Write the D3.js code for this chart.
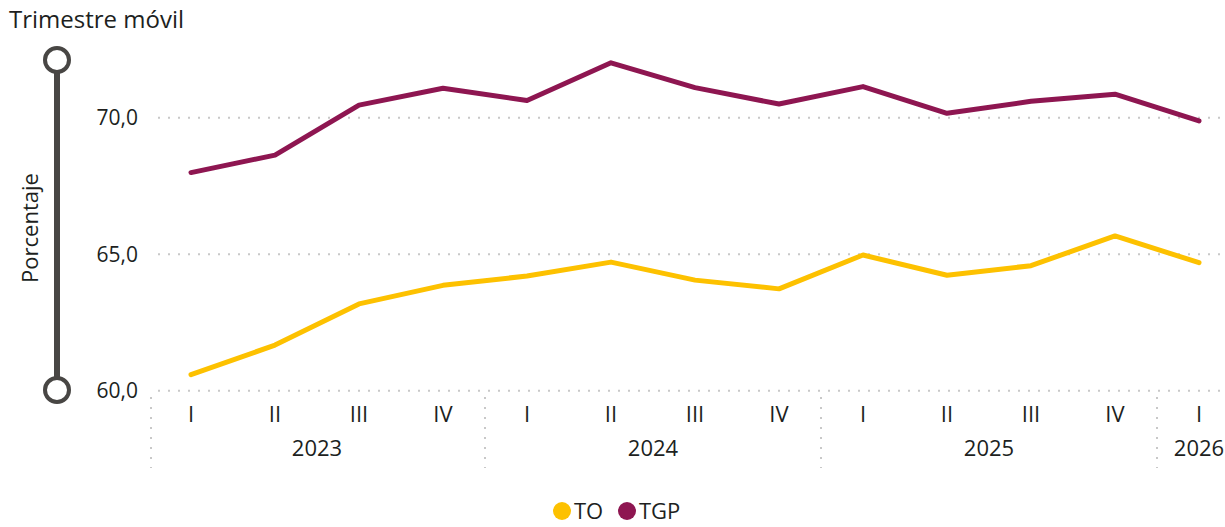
<!DOCTYPE html>
<html lang="es">
<head>
    <meta charset="UTF-8">
    <title>Trimestre móvil</title>
    <script src="https://d3js.org/d3.v7.min.js"></script>
    <style>
        body {
            margin: 0;
            background: #fff;
            font-family: "Segoe UI", "Open Sans", sans-serif;
        }
        #canvas {
            display: block;
        }
        .grid line {
            stroke: #c8c8c8;
            stroke-width: 2;
            stroke-dasharray: 2 8;
        }
        text {
            fill: #201f1e;
        }
    </style>
</head>
<body>
<svg id="canvas" width="1225" height="527"></svg>
<script>
    // data
    const quarters = ["I", "II", "III", "IV", "I", "II", "III", "IV", "I", "II", "III", "IV", "I"];
    const years = ["2023", "2023", "2023", "2023", "2024", "2024", "2024", "2024", "2025", "2025", "2025", "2025", "2026"];
    const tgp = [67.99, 68.63, 70.46, 71.08, 70.63, 72.01, 71.10, 70.50, 71.14, 70.16, 70.60, 70.86, 69.88];
    const to = [60.59, 61.67, 63.18, 63.86, 64.20, 64.71, 64.05, 63.73, 64.97, 64.23, 64.58, 65.67, 64.69];
    const yTicks = [60, 65, 70];
    const series = [
        {name: "TO", values: to, color: "#fdc100"},
        {name: "TGP", values: tgp, color: "#8e1651"}
    ];

    const svg = d3.select("#canvas");
    const idx = d3.range(quarters.length);

    let x = d3.scaleBand().domain(idx).range([149, 1241]);
    let y = d3.scaleLinear().domain([60, 70]).range([390.7, 117.7]);
    let cx = i => x(i) + x.bandwidth() / 2;

    // title
    svg.append("text")
        .attr("x", 9).attr("y", 28)
        .style("font-size", "24px")
        .text("Trimestre móvil");

    // axis decoration (slider-like bar)
    let deco = svg.append("g");
    deco.append("line")
        .attr("x1", 57).attr("x2", 57)
        .attr("y1", 70).attr("y2", 380)
        .attr("stroke", "#484644").attr("stroke-width", 6);
    deco.selectAll("circle").data([60, 390]).enter().append("circle")
        .attr("cx", 57).attr("cy", d => d).attr("r", 12)
        .attr("fill", "#fff").attr("stroke", "#484644").attr("stroke-width", 4);

    svg.append("text")
        .attr("transform", "translate(38,228) rotate(-90)")
        .attr("text-anchor", "middle")
        .style("font-size", "22px")
        .text("Porcentaje");

    // gridlines
    let grid = svg.append("g").attr("class", "grid");
    grid.selectAll("line").data(yTicks).enter().append("line")
        .attr("x1", 158).attr("x2", 1222)
        .attr("y1", d => y(d)).attr("y2", d => y(d));

    // y tick labels
    svg.append("g").selectAll("text").data(yTicks).enter().append("text")
        .attr("x", 138).attr("y", d => y(d))
        .attr("dy", "0.35em")
        .attr("text-anchor", "end")
        .style("font-size", "21px")
        .text(d => d3.format(".1f")(d).replace(".", ","));

    // x quarter labels
    svg.append("g").selectAll("text").data(idx).enter().append("text")
        .attr("x", d => cx(d)).attr("y", 422)
        .attr("text-anchor", "middle")
        .style("font-size", "22px")
        .text(d => quarters[d]);

    // year groups
    let groups = d3.groups(idx, d => years[d]);
    svg.append("g").selectAll("text").data(groups).enter().append("text")
        .attr("x", d => (cx(d[1][0]) + cx(d[1][d[1].length - 1])) / 2)
        .attr("y", 456)
        .attr("text-anchor", "middle")
        .style("font-size", "22px")
        .text(d => d[0]);

    // separators between years
    let seps = [x(0) + 2].concat(groups.slice(1).map(g => x(g[1][0])));
    let sepG = svg.append("g").attr("class", "grid");
    sepG.selectAll("line").data(seps).enter().append("line")
        .attr("x1", d => d).attr("x2", d => d)
        .attr("y1", 397).attr("y2", 468);

    // lines
    let line = d3.line()
        .x((d, i) => cx(i))
        .y(d => y(d));
    svg.append("g").selectAll("path").data(series).enter().append("path")
        .attr("d", d => line(d.values))
        .attr("fill", "none")
        .attr("stroke", d => d.color)
        .attr("stroke-width", 5)
        .attr("stroke-linejoin", "round")
        .attr("stroke-linecap", "round");

    // legend
    let legend = svg.append("g");
    let lx = [562, 627];
    let items = legend.selectAll("g").data(series).enter().append("g")
        .attr("transform", (d, i) => "translate(" + lx[i] + ",511)");
    items.append("circle").attr("r", 9).attr("fill", d => d.color);
    items.append("text")
        .attr("x", 12).attr("dy", "0.35em")
        .style("font-size", "22px")
        .text(d => d.name);
</script>
</body>
</html>
